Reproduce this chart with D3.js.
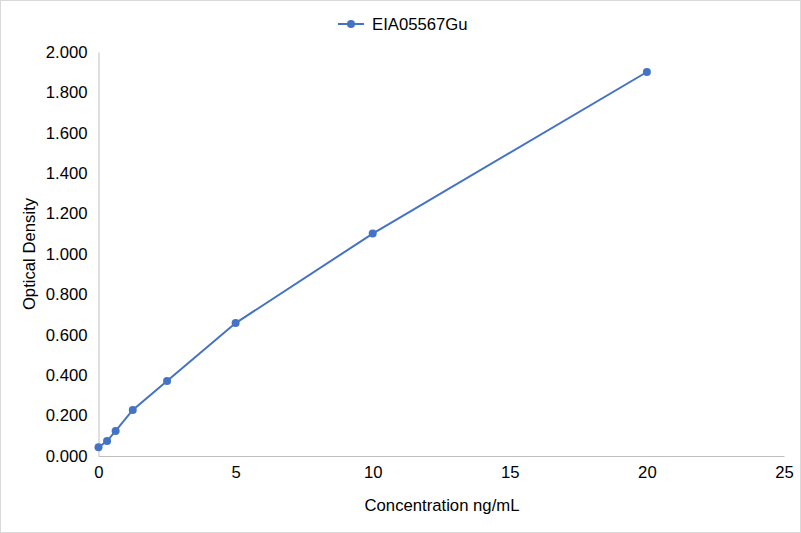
<!DOCTYPE html>
<html>
<head>
<meta charset="utf-8">
<script src="https://cdn.jsdelivr.net/npm/d3@7"></script>
<style>
  body { margin: 0; background: #fff; }
  text { font-family: "Liberation Sans", Arial, sans-serif; fill: #000; }
</style>
</head>
<body>
<script>
// data
const concentration = [0, 0.3125, 0.625, 1.25, 2.5, 5, 10, 20];
const density = [0.043, 0.074, 0.124, 0.228, 0.371, 0.658, 1.101, 1.901];
const seriesName = "EIA05567Gu";
const xTicks = [0, 5, 10, 15, 20, 25];
const yTicks = [0, 0.2, 0.4, 0.6, 0.8, 1.0, 1.2, 1.4, 1.6, 1.8, 2.0];

const width = 801;
const height = 533;
const color = "#4472C4";
const fontSize = "16.7px";

const svg = d3.select("body")
  .append("svg")
  .attr("width", width)
  .attr("height", height);

// outer chart border
svg.append("rect")
  .attr("x", 0.5).attr("y", 0.5)
  .attr("width", width - 1).attr("height", height - 1)
  .attr("fill", "#fff")
  .attr("stroke", "#d9d9d9");

const xScale = d3.scaleLinear().domain([0, 25]).range([98.5, 784]);
const yScale = d3.scaleLinear().domain([0, 2]).range([456, 52]);

// axes
const bottomAxis = d3.axisBottom(xScale)
  .tickValues(xTicks)
  .tickSize(0)
  .tickPadding(10)
  .tickFormat(d3.format("d"));

const leftAxis = d3.axisLeft(yScale)
  .tickValues(yTicks)
  .tickSize(0)
  .tickPadding(11)
  .tickFormat(d3.format(".3f"));

const gx = svg.append("g")
  .attr("transform", "translate(0," + yScale(0) + ")")
  .call(bottomAxis);
gx.select(".domain").attr("stroke", "#bfbfbf");
gx.selectAll("text").style("font-size", fontSize).attr("dy", "0.71em");

const gy = svg.append("g")
  .attr("transform", "translate(" + xScale(0) + ",0)")
  .call(leftAxis);
gy.select(".domain").attr("stroke", "#bfbfbf");
gy.selectAll("text").style("font-size", fontSize);

// axis titles
svg.append("text")
  .attr("x", 442)
  .attr("y", 511)
  .attr("text-anchor", "middle")
  .style("font-size", fontSize)
  .text("Concentration ng/mL");

svg.append("text")
  .attr("transform", "translate(35," + yScale(1) + ") rotate(-90)")
  .attr("text-anchor", "middle")
  .style("font-size", fontSize)
  .text("Optical Density");

// line + markers
const points = concentration.map((c, i) => ({x: c, y: density[i]}));

const line = d3.line()
  .x(d => xScale(d.x))
  .y(d => yScale(d.y));

svg.append("path")
  .datum(points)
  .attr("d", line)
  .attr("fill", "none")
  .attr("stroke", color)
  .attr("stroke-width", 2);

svg.selectAll("circle.pt")
  .data(points)
  .enter()
  .append("circle")
  .attr("class", "pt")
  .attr("cx", d => xScale(d.x))
  .attr("cy", d => yScale(d.y))
  .attr("r", 4)
  .attr("fill", color);

// legend
const legend = svg.append("g").attr("transform", "translate(338,24)");
legend.append("line")
  .attr("x1", 0).attr("x2", 26)
  .attr("stroke", color).attr("stroke-width", 2);
legend.append("circle")
  .attr("cx", 13).attr("r", 4).attr("fill", color);
legend.append("text")
  .attr("x", 34).attr("dy", "0.35em")
  .style("font-size", fontSize)
  .text(seriesName);
</script>
</body>
</html>
